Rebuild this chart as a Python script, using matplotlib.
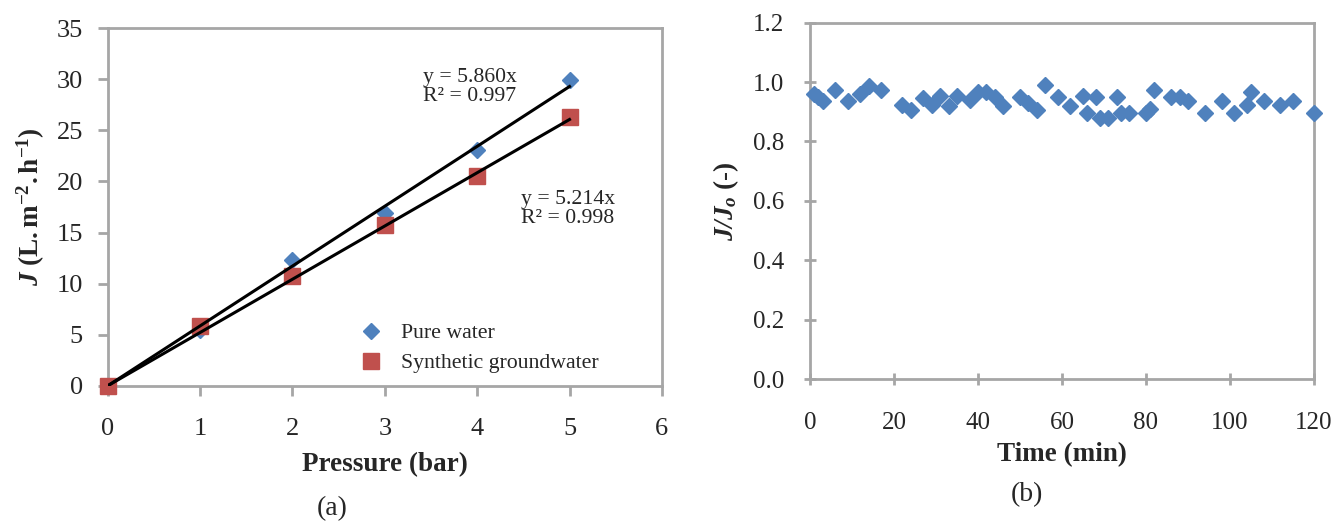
import matplotlib
matplotlib.use("Agg")
import matplotlib.pyplot as plt
import numpy as np

# ---------------- data ----------------
pressure = [0, 1, 2, 3, 4, 5]
flux_pure = [0, 5.5, 12.3, 16.9, 23.1, 29.9]
flux_synth = [0, 5.8, 10.7, 15.7, 20.5, 26.3]
slope_pure = 5.860
slope_synth = 5.214
eq_pure = "y = 5.860x\nR² = 0.997"
eq_synth = "y = 5.214x\nR² = 0.998"

time_min = [1, 2, 3, 6, 9, 12, 14, 17, 22, 24, 27, 29, 31, 33, 35, 38, 40, 42, 44, 46,
            50, 52, 54, 56, 59, 62, 65, 66, 68, 69, 71, 73, 74, 76, 80, 81, 82, 86, 88,
            90, 94, 98, 101, 104, 105, 108, 112, 115, 120]
flux_ratio = [0.96, 0.95, 0.935, 0.975, 0.935, 0.96, 0.988, 0.973, 0.922, 0.906, 0.946,
              0.922, 0.953, 0.919, 0.953, 0.94, 0.967, 0.967, 0.95, 0.92, 0.95, 0.93,
              0.905, 0.99, 0.95, 0.92, 0.953, 0.895, 0.95, 0.878, 0.878, 0.95, 0.895,
              0.895, 0.895, 0.91, 0.975, 0.95, 0.95, 0.935, 0.895, 0.935, 0.895, 0.922,
              0.965, 0.935, 0.922, 0.935, 0.895]

left_xticks = [0, 1, 2, 3, 4, 5, 6]
left_yticks = [0, 5, 10, 15, 20, 25, 30, 35]
right_xticks = [0, 20, 40, 60, 80, 100, 120]
right_yticks = [0.0, 0.2, 0.4, 0.6, 0.8, 1.0, 1.2]

# ---------------- style ----------------
plt.rcParams['font.family'] = ['Liberation Serif', 'DejaVu Serif']
plt.rcParams['mathtext.fontset'] = 'custom'
plt.rcParams['mathtext.rm'] = 'Liberation Serif'
plt.rcParams['mathtext.bf'] = 'Liberation Serif:bold'
plt.rcParams['mathtext.it'] = 'Liberation Serif:italic'
plt.rcParams['mathtext.bfit'] = 'Liberation Serif:bold:italic'

BLUE = '#4F81BD'
RED = '#C0504D'
GRAY = '#A6A6A6'
TXT = '#262626'
TICKFS_L = 19
TICKFS_R = 18
LABFS = 19.5
ANNFS = 15.7

fig = plt.figure(figsize=(13.36, 5.23), dpi=100)

# ---------------- left panel ----------------
ax1 = fig.add_axes([0.0807, 0.2625, 0.4147, 0.6834])
ax1.plot(pressure, flux_pure, linestyle='none', marker='D', markersize=8.3,
         color=BLUE, label='Pure water', zorder=3, clip_on=False)
ax1.plot(pressure, flux_synth, linestyle='none', marker='s', markersize=11,
         color=RED, label='Synthetic groundwater', zorder=3, clip_on=False)
xfit = np.array([pressure[0], pressure[-1]])
ax1.plot(xfit, slope_pure * xfit, color='black', lw=2.2, zorder=4)
ax1.plot(xfit, slope_synth * xfit, color='black', lw=2.2, zorder=4)
ax1.set_xlim(0, 6)
ax1.set_ylim(0, 35)
ax1.set_xticks(left_xticks)
ax1.set_yticks(left_yticks)
for s in ax1.spines.values():
    s.set_color(GRAY)
    s.set_linewidth(2)
ax1.tick_params(axis='both', direction='out', color=GRAY, width=2, length=7,
                labelsize=TICKFS_L, labelcolor=TXT)
ax1.tick_params(axis='x', pad=16)
ax1.tick_params(axis='y', pad=11)
ax1.set_xlabel('Pressure (bar)', fontsize=LABFS, fontweight='bold', labelpad=9, color=TXT)
ax1.set_ylabel(r'$\mathbfit{J}$ $\mathbf{(L.m^{-2}.h^{-1})}$', fontsize=LABFS,
               labelpad=7, color=TXT)
ax1.text(3.41, 31.1, eq_pure, fontsize=ANNFS, va='top', ha='left', linespacing=1.0, color=TXT)
ax1.text(4.47, 19.2, eq_synth, fontsize=ANNFS, va='top', ha='left', linespacing=1.0, color=TXT)
leg = ax1.legend(loc='upper left', bbox_to_anchor=(0.427, 0.2), frameon=False,
                 fontsize=ANNFS, handletextpad=0.6, handlelength=1.6,
                 labelspacing=0.45, borderaxespad=0)
for t in leg.get_texts():
    t.set_color(TXT)
ax1.text(0.405, -0.345, '(a)', transform=ax1.transAxes, fontsize=20, ha='center',
         va='center', color=TXT)

# ---------------- right panel ----------------
ax2 = fig.add_axes([0.6063, 0.2753, 0.3772, 0.6813])
ax2.plot(time_min, flux_ratio, linestyle='none', marker='D', markersize=8.3,
         color=BLUE, zorder=3, clip_on=False)
ax2.set_xlim(0, 120)
ax2.set_ylim(0, 1.2)
ax2.set_xticks(right_xticks)
ax2.set_yticks(right_yticks)
ax2.set_yticklabels([f'{v:.1f}' for v in right_yticks])
for s in ax2.spines.values():
    s.set_color(GRAY)
    s.set_linewidth(2)
ax2.tick_params(axis='both', direction='inout', color=GRAY, width=2, length=9,
                labelsize=TICKFS_R, labelcolor=TXT)
ax2.tick_params(axis='x', pad=19)
ax2.tick_params(axis='y', pad=14)
ax2.set_xlabel('Time (min)', fontsize=LABFS, fontweight='bold', labelpad=6, color=TXT)
ax2.set_ylabel(r'$\mathbfit{J/J_o}$ $\mathbf{(\text{-})}$', fontsize=LABFS,
               labelpad=9, color=TXT)
ax2.text(0.43, -0.325, '(b)', transform=ax2.transAxes, fontsize=20, ha='center',
         va='center', color=TXT)

fig.savefig('out.png', dpi=100)
